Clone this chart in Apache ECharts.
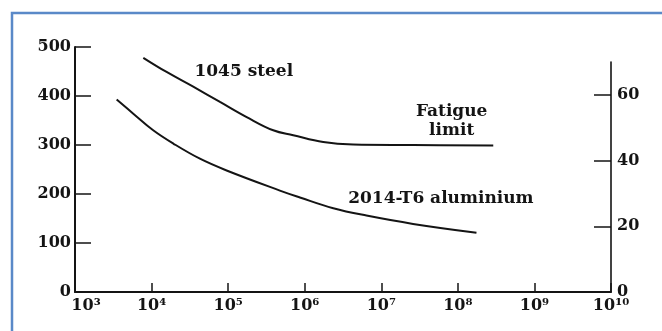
<!DOCTYPE html>
<html>
<head>
<meta charset="utf-8">
<script src="https://cdn.jsdelivr.net/npm/echarts@6/dist/echarts.min.js"></script>
<style>
html,body{margin:0;padding:0;background:#fff;}
#chart{width:662px;height:331px;}
</style>
</head>
<body>
<div id="chart"></div>
<script>
// Data: cycles (N) vs stress amplitude (MPa)
const steelCycles = [7800, 15700, 35000, 78200, 174600, 388000, 708000, 1746000, 4300000, 26000000, 290000000];
const steelStress = [478, 449, 419, 388, 357, 330, 320, 306, 301, 300, 299];
const aluCycles = [3500, 5770, 10500, 19200, 42800, 95500, 474000, 865000, 2360000, 6400000, 26000000, 175000000];
const aluStress = [393, 364, 330, 303, 272, 248, 207, 193, 171, 156, 139, 121];
const leftTicks = [0, 100, 200, 300, 400, 500];
const rightTicks = [0, 20, 40, 60];
const annotations = [
  { text: '1045 steel', at: [160000, 449] },
  { text: 'Fatigue\nlimit', at: [83000000, 348] },
  { text: '2014-T6 aluminium', at: [60000000, 190] }
];

const sup = {'0':'\u2070','1':'\u00b9','2':'\u00b2','3':'\u00b3','4':'\u2074','5':'\u2075','6':'\u2076','7':'\u2077','8':'\u2078','9':'\u2079'};
function powLabel(v) {
  const e = Math.round(Math.log10(v));
  const s = String(e).split('').map(c => sup[c]).join('');
  if (e === 3) return '{first|10' + s + '}';
  return '10' + s;
}

const font = 'DejaVu Serif';
const ink = '#141414';
const chart = echarts.init(document.getElementById('chart'));
chart.setOption({
  animation: false,
  backgroundColor: '#fff',
  graphic: [{
    type: 'rect', z: 100,
    shape: { x: 12, y: 13, width: 720, height: 400 },
    style: { fill: 'none', stroke: '#5a89c8', lineWidth: 2.5 }
  }],
  grid: [
    { left: 75, right: 51, top: 47, bottom: 39 },
    { left: 75, right: 51, top: 62, bottom: 39 }
  ],
  xAxis: [{
    type: 'log', logBase: 10, min: 1000, max: 1e10, interval: 1, splitNumber: 7,
    gridIndex: 0,
    axisLine: { lineStyle: { color: ink, width: 2 } },
    axisTick: { inside: true, length: 9, lineStyle: { color: ink, width: 1.5 } },
    splitLine: { show: false },
    axisLabel: {
      formatter: powLabel, margin: 6, color: ink,
      fontFamily: font, fontWeight: 'bold', fontSize: 16,
      rich: { first: { fontFamily: font, fontWeight: 'bold', fontSize: 16, color: ink, padding: [0, 0, 0, 22] } }
    }
  }, {
    type: 'log', min: 1000, max: 1e10, gridIndex: 1, show: false
  }],
  yAxis: [{
    type: 'value', min: 0, max: 500, interval: 100, gridIndex: 0,
    axisLine: { show: true, lineStyle: { color: ink, width: 2 } },
    axisTick: { show: true, inside: true, length: 16, lineStyle: { color: ink, width: 1.5 }, customValues: leftTicks.slice(1) },
    splitLine: { show: false },
    axisLabel: { customValues: leftTicks, margin: 4, color: ink, fontFamily: font, fontWeight: 'bold', fontSize: 16 }
  }, {
    type: 'value', min: 0, max: 70, interval: 20, gridIndex: 1, position: 'right',
    axisLine: { show: true, lineStyle: { color: ink, width: 1.6 } },
    axisTick: { show: true, inside: true, length: 17, lineStyle: { color: ink, width: 1.5 }, customValues: rightTicks.slice(1) },
    splitLine: { show: false },
    axisLabel: { customValues: rightTicks, margin: 6, color: ink, fontFamily: font, fontWeight: 'bold', fontSize: 16 }
  }],
  series: [{
    type: 'line', xAxisIndex: 0, yAxisIndex: 0, smooth: 0.4, symbol: 'none',
    lineStyle: { color: ink, width: 2 },
    data: steelCycles.map((c, i) => [c, steelStress[i]]),
    markPoint: {
      symbol: 'circle', symbolSize: 0,
      label: { show: true, position: 'inside', formatter: p => p.name, color: ink, fontFamily: font, fontWeight: 'bold', fontSize: 17, lineHeight: 19, align: 'center' },
      data: annotations.map(a => ({ name: a.text, coord: a.at }))
    }
  }, {
    type: 'line', xAxisIndex: 0, yAxisIndex: 0, smooth: 0.4, symbol: 'none',
    lineStyle: { color: ink, width: 2 },
    data: aluCycles.map((c, i) => [c, aluStress[i]])
  }]
});
</script>
</body>
</html>
